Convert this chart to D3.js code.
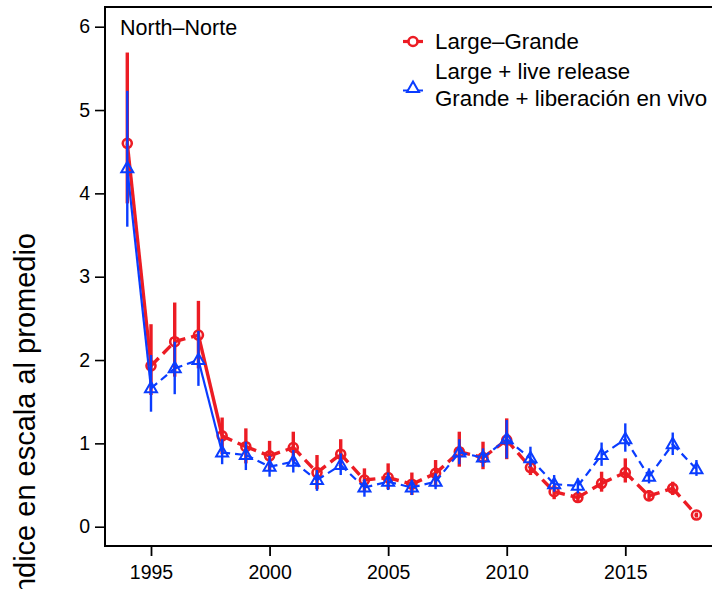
<!DOCTYPE html>
<html><head><meta charset="utf-8">
<script src="https://cdn.jsdelivr.net/npm/d3@7"></script>
<style>html,body{margin:0;padding:0;background:#fff;overflow:hidden}svg{display:block;font-family:Arial,"Liberation Sans",sans-serif}</style>
</head><body>
<script>
const years = [1994,1995,1996,1997,1998,1999,2000,2001,2002,2003,2004,2005,2006,2007,2008,2009,2010,2011,2012,2013,2014,2015,2016,2017,2018];
const large   = [4.60,1.93,2.22,2.30,1.09,0.96,0.85,0.95,0.65,0.87,0.56,0.59,0.51,0.64,0.90,0.83,1.04,0.71,0.42,0.35,0.52,0.65,0.37,0.46,0.14];
const largeLo = [3.88,1.58,1.80,1.90,0.87,0.76,0.68,0.78,0.45,0.70,0.42,0.45,0.38,0.48,0.72,0.69,0.81,0.62,0.33,0.29,0.42,0.53,0.31,0.38,0.11];
const largeHi = [5.69,2.43,2.69,2.71,1.31,1.18,1.03,1.14,0.86,1.05,0.70,0.76,0.65,0.80,1.14,1.02,1.30,0.80,0.50,0.42,0.66,0.82,0.44,0.54,0.17];
const live    = [4.30,1.66,1.90,2.00,0.89,0.86,0.72,0.78,0.56,0.74,0.47,0.54,0.47,0.54,0.89,0.83,1.05,0.82,0.51,0.49,0.86,1.05,0.60,0.99,0.69];
const liveLo  = [3.60,1.38,1.59,1.69,0.75,0.68,0.60,0.65,0.43,0.62,0.36,0.44,0.38,0.45,0.75,0.72,0.82,0.72,0.42,0.40,0.73,0.90,0.52,0.86,0.61];
const liveHi  = [5.23,2.06,2.22,2.35,1.05,1.02,0.85,0.92,0.68,0.88,0.57,0.65,0.56,0.64,1.05,0.94,1.28,0.96,0.62,0.58,1.01,1.24,0.70,1.13,0.80];
const xTicks = [1995,2000,2005,2010,2015];
const yTicks = [0,1,2,3,4,5,6];
const seriesNames = ["Large\u2013Grande", ["Large + live release","Grande + liberación en vivo"]];
const panelTitle = "North\u2013Norte";
const yTitle = "Índice en escala al promedio";

(function(){
const W = 712, H = 589;
const RED = "#EC1C24", BLUE = "#0A3CFF";
const svg = d3.select("body").append("svg").attr("width", W).attr("height", H);

const x = d3.scaleLinear().domain([1995, 2015]).range([151, 625.3]);
const y = d3.scaleLinear().domain([0, 6]).range([526.7, 26.7]);
const left = 105, topY = 7, bottom = 546;

svg.append("path").attr("d", `M${W+10},${topY}H${left}V${bottom}H${W+10}`)
  .attr("fill","none").attr("stroke","#000").attr("stroke-width",2);

const yAx = svg.append("g").attr("transform", `translate(${left},0)`)
  .call(d3.axisLeft(y).tickValues(yTicks).tickSize(10).tickPadding(5).tickFormat(d3.format("d")));
yAx.select(".domain").remove();
yAx.selectAll("line").attr("stroke","#000").attr("stroke-width",1.6);
yAx.selectAll("text").attr("font-size",19.5).attr("fill","#000").attr("font-family","Arial, 'Liberation Sans', sans-serif");

const xAx = svg.append("g").attr("transform", `translate(0,${bottom})`)
  .call(d3.axisBottom(x).tickValues(xTicks).tickSize(10).tickPadding(9).tickFormat(d3.format("d")));
xAx.select(".domain").remove();
xAx.selectAll("line").attr("stroke","#000").attr("stroke-width",1.8);
xAx.selectAll("text").attr("font-size",19.5).attr("fill","#000").attr("font-family","Arial, 'Liberation Sans', sans-serif");

svg.append("text").attr("transform","translate(35,233) rotate(-90)")
  .attr("text-anchor","end").attr("font-size",29).attr("fill","#000").text(yTitle);

svg.append("text").attr("x",120).attr("y",35).attr("font-size",21.5).attr("fill","#000").text(panelTitle);

function drawSeries(vals, lo, hi, color, lw, dash, ebw, shape) {
  const g = svg.append("g");
  const pts = years.map((yr,i)=>({x:x(yr), y:y(vals[i]), lo:y(lo[i]), hi:y(hi[i])}));
  g.selectAll("line.eb").data(pts).enter().append("line")
    .attr("x1",d=>d.x).attr("x2",d=>d.x).attr("y1",d=>d.lo).attr("y2",d=>d.hi)
    .attr("stroke",color).attr("stroke-width",ebw);
  const segs = d3.pairs(pts);
  g.selectAll("line.seg").data(segs).enter().append("line")
    .attr("x1",d=>d[0].x).attr("y1",d=>d[0].y).attr("x2",d=>d[1].x).attr("y2",d=>d[1].y)
    .attr("stroke",color).attr("stroke-width",lw)
    .attr("stroke-dasharray", d => Math.hypot(d[1].x-d[0].x, d[1].y-d[0].y) > 70 ? null : dash);
  if (shape === "circle") {
    g.selectAll("circle").data(pts).enter().append("circle")
      .attr("cx",d=>d.x).attr("cy",d=>d.y).attr("r",4.5)
      .attr("fill","none").attr("stroke",color).attr("stroke-width",2.6);
  } else {
    g.selectAll("path.tri").data(pts).enter().append("path")
      .attr("d", d => `M${d.x},${d.y-6.5}L${d.x+6},${d.y+4}L${d.x-6},${d.y+4}Z`)
      .attr("fill","none").attr("stroke",color).attr("stroke-width",2);
  }
}
drawSeries(large, largeLo, largeHi, RED, 3.4, "11,6", 3.4, "circle");
drawSeries(live, liveLo, liveHi, BLUE, 2.2, "8,5", 2.4, "tri");

const lg = svg.append("g");
lg.append("line").attr("x1",403).attr("x2",423).attr("y1",41.5).attr("y2",41.5).attr("stroke",RED).attr("stroke-width",3.2);
lg.append("circle").attr("cx",413).attr("cy",41.5).attr("r",4.5).attr("fill","#fff").attr("stroke",RED).attr("stroke-width",2.6);
lg.append("text").attr("x",435).attr("y",48.5).attr("font-size",22.3).attr("fill","#000").text(seriesNames[0]);
lg.append("line").attr("x1",403).attr("x2",423).attr("y1",90.5).attr("y2",90.5).attr("stroke",BLUE).attr("stroke-width",2);
lg.append("path").attr("d","M413,81.5L419,92L407,92Z").attr("fill","#fff").attr("stroke",BLUE).attr("stroke-width",2);
lg.append("text").attr("x",435).attr("y",79).attr("font-size",22.3).attr("fill","#000").text(seriesNames[1][0]);
lg.append("text").attr("x",435).attr("y",105.5).attr("font-size",22.3).attr("fill","#000").text(seriesNames[1][1]);
})();
</script>
</body></html>
